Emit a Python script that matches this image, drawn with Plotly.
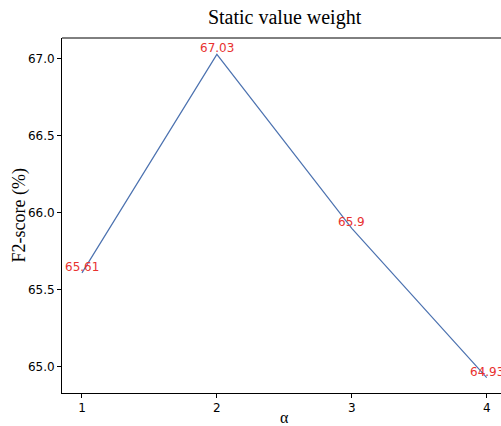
import plotly.graph_objects as go

alpha = [1, 2, 3, 4]
f2_score = [65.61, 67.03, 65.9, 64.93]
point_labels = ["65.61", "67.03", "65.9", "64.93"]
y_ticks = [65.0, 65.5, 66.0, 66.5, 67.0]

line_color = "#4c72b0"
label_color = "#e8312f"
tick_font = dict(family="DejaVu Sans", size=12, color="black")
serif = "Liberation Serif"

fig = go.Figure()
fig.add_trace(go.Scatter(
    x=alpha, y=f2_score, mode="lines",
    line=dict(color=line_color, width=1.2),
    showlegend=False, hoverinfo="skip",
))

for xv, yv, txt in zip(alpha, f2_score, point_labels):
    fig.add_annotation(
        x=xv, y=yv, text=txt, showarrow=False,
        xanchor="center", yanchor="bottom", yshift=-3,
        font=dict(family="DejaVu Sans", size=12, color=label_color),
    )

fig.update_layout(
    width=501, height=426,
    margin=dict(l=62, r=0, t=38, b=33),
    paper_bgcolor="white", plot_bgcolor="white",
    title=dict(text="Static value weight", xref="paper", x=0.507, xanchor="center",
               yref="container", y=1 - 17 / 426, yanchor="middle",
               font=dict(family=serif, size=20, color="black")),
)
fig.update_xaxes(
    range=[0.852, 4.106], tickvals=alpha, ticktext=[str(a) for a in alpha],
    showgrid=False, zeroline=False, automargin=False,
    showline=True, linecolor="black", linewidth=1, mirror=False,
    ticks="outside", ticklen=4, tickcolor="black", tickfont=tick_font,
)
fig.update_yaxes(
    range=[64.83, 67.136], tickvals=y_ticks, tickformat=".1f",
    showgrid=False, zeroline=False, automargin=False,
    showline=True, linecolor="black", linewidth=1, mirror=False,
    ticks="outside", ticklen=4, tickcolor="black", tickfont=tick_font,
)
# axis titles placed in paper coordinates
fig.add_annotation(text="α", xref="paper", yref="paper", x=0.507, y=-25 / 355,
                   xanchor="center", yanchor="middle", showarrow=False,
                   font=dict(family=serif, size=16, color="black"))
fig.add_annotation(text="F2-score (%)", xref="paper", yref="paper", x=-43 / 439, y=0.5,
                   xanchor="center", yanchor="middle", showarrow=False, textangle=-90,
                   font=dict(family=serif, size=18, color="black"))
# top border of the axes box
fig.add_shape(type="line", xref="paper", yref="paper", x0=0, x1=1, y0=1, y1=1,
              line=dict(color="black", width=1))

fig.write_html("out.html")
